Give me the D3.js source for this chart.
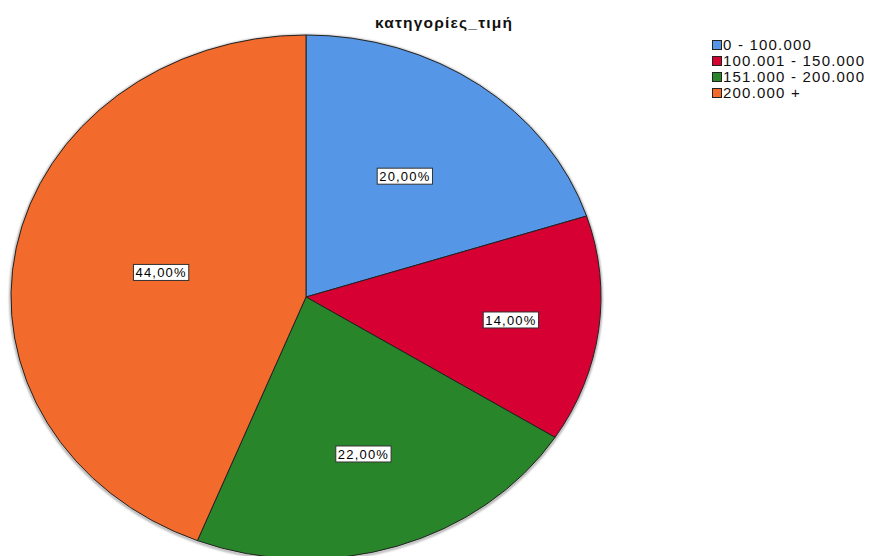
<!DOCTYPE html>
<html>
<head>
<meta charset="utf-8">
<script src="https://cdn.jsdelivr.net/npm/d3@7"></script>
<style>
  html, body { margin: 0; padding: 0; background: #fff; }
  svg { display: block; }
  text { font-family: "Liberation Sans", Arial, sans-serif; letter-spacing: 1.2px; }
</style>
</head>
<body>
<svg id="chart" width="869" height="556"></svg>
<script>
// Price categories and their share of cases (percent)
const categories = ["0 - 100.000", "100.001 - 150.000", "151.000 - 200.000", "200.000 +"];
const percents = [20, 14, 22, 44];
const colors = ["#5596e6", "#d60032", "#298529", "#f26a2c"];
const title = "κατηγορίες_τιμή";

// Relative distance of each value label from the centre
const labelRadius = [0.57, 0.70, 0.63, 0.50];

const cx = 306, cy = 297, rx = 295, ry = 262;

const svg = d3.select("#chart");

svg.append("text")
  .attr("x", 444).attr("y", 28)
  .attr("text-anchor", "middle")
  .attr("font-size", 15.5).attr("font-weight", "bold")
  .attr("fill", "#111")
  .text(title);

const pie = d3.pie().sort(null).value(d => d).startAngle(0).endAngle(2 * Math.PI);
const arcs = pie(percents);
const arc = d3.arc().innerRadius(0).outerRadius(rx);

const defs = svg.append("defs");
defs.append("filter").attr("id", "soft")
  .attr("x", "-5%").attr("y", "-5%").attr("width", "110%").attr("height", "110%")
  .append("feGaussianBlur").attr("stdDeviation", 1.2);

// Faint halo around the rim
svg.append("ellipse")
  .attr("cx", cx).attr("cy", cy + 1).attr("rx", rx + 0.5).attr("ry", ry + 0.5)
  .attr("fill", "none").attr("stroke", "#999").attr("stroke-width", 2)
  .attr("filter", "url(#soft)");

const pieG = svg.append("g")
  .attr("transform", `translate(${cx},${cy}) scale(1,${ry / rx})`);

pieG.selectAll("path")
  .data(arcs)
  .join("path")
  .attr("d", arc)
  .attr("fill", (d, i) => colors[i])
  .attr("stroke", "#222")
  .attr("stroke-width", 1)
  .attr("vector-effect", "non-scaling-stroke");

// Value labels in white boxes
const fmt = v => v.toFixed(2).replace(".", ",") + "%";
const labels = svg.append("g");
arcs.forEach((d, i) => {
  const mid = (d.startAngle + d.endAngle) / 2;
  const x = cx + labelRadius[i] * rx * Math.sin(mid);
  const y = cy - labelRadius[i] * ry * Math.cos(mid);
  const g = labels.append("g").attr("transform", `translate(${x},${y})`);
  const t = g.append("text")
    .attr("text-anchor", "middle")
    .attr("dy", "0.36em")
    .attr("font-size", 13)
    .attr("fill", "#000")
    .text(fmt(d.data));
  const w = t.node().getComputedTextLength();
  g.insert("rect", "text")
    .attr("x", -w / 2 - 2).attr("y", -8)
    .attr("width", w + 4).attr("height", 16)
    .attr("fill", "#fff").attr("stroke", "#333").attr("stroke-width", 1);
});

// Legend
const legend = svg.append("g").attr("transform", "translate(712,40)");
categories.forEach((c, i) => {
  const row = legend.append("g").attr("transform", `translate(0,${i * 16})`);
  row.append("rect")
    .attr("x", 0.5).attr("y", 0.5).attr("width", 9).attr("height", 9)
    .attr("fill", colors[i]).attr("stroke", "#222").attr("stroke-width", 1);
  row.append("text")
    .attr("x", 11).attr("y", 5).attr("dy", "0.36em")
    .attr("font-size", 15).attr("fill", "#111")
    .text(c);
});
</script>
</body>
</html>
